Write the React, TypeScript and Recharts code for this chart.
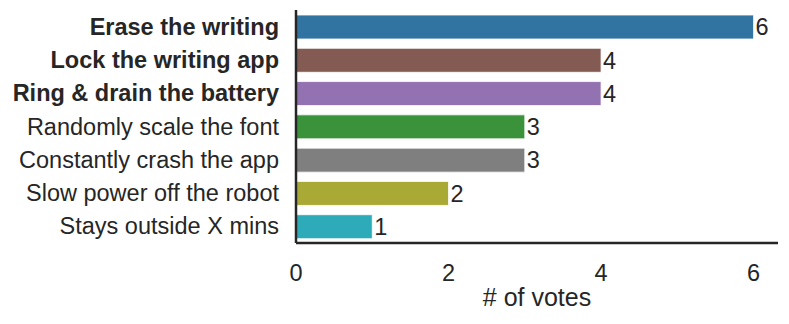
import React from 'react';
import { BarChart, Bar, XAxis, YAxis, Cell, LabelList } from 'recharts';

const categories = [
  'Erase the writing',
  'Lock the writing app',
  'Ring & drain the battery',
  'Randomly scale the font',
  'Constantly crash the app',
  'Slow power off the robot',
  'Stays outside X mins',
];
const votes = [6, 4, 4, 3, 3, 2, 1];
const boldCategories = ['Erase the writing', 'Lock the writing app', 'Ring & drain the battery'];
const xTicks = [0, 2, 4, 6];

const colors = ['#3274a1', '#845b53', '#9372b2', '#3a923a', '#7f7f7f', '#a9aa35', '#2eabb8'];

const data = categories.map((name, i) => ({ name, votes: votes[i] }));

const FONT = '"Liberation Sans", Arial, sans-serif';
const INK = '#262626';
const FS = 23.5;

const CategoryTick = (props: any) => {
  const { x, y, payload } = props;
  const bold = boldCategories.includes(payload.value);
  return (
    <text
      x={x - 9}
      y={y}
      dy={8}
      textAnchor="end"
      fill={INK}
      fontSize={FS}
      fontWeight={bold ? 'bold' : 'normal'}
      fontFamily={FONT}
    >
      {payload.value}
    </text>
  );
};

export default function App() {
  return (
    <div style={{ position: 'absolute', left: 0, top: 0, background: '#fff' }}>
      <BarChart
        width={789}
        height={324}
        data={data}
        layout="vertical"
        margin={{ top: 10, right: 11, left: 0, bottom: 0 }}
        barSize={24}
      >
        <XAxis
          type="number"
          domain={[0, 6.32]}
          ticks={xTicks}
          allowDataOverflow
          axisLine={{ stroke: INK, strokeWidth: 2.5 }}
          tickLine={false}
          tick={{ fill: INK, fontSize: FS, fontFamily: FONT }}
          tickMargin={15}
          height={81}
          label={{
            value: '# of votes',
            position: 'insideTop',
            offset: 45,
            fill: INK,
            fontSize: 25,
            fontFamily: FONT,
          }}
        />
        <YAxis
          type="category"
          dataKey="name"
          width={296}
          axisLine={{ stroke: INK, strokeWidth: 2.5 }}
          tickLine={false}
          tick={<CategoryTick />}
          interval={0}
        />
        <Bar dataKey="votes" isAnimationActive={false} stroke="#ffffff" strokeWidth={0.8}>
          {data.map((d, i) => (
            <Cell key={d.name} fill={colors[i]} />
          ))}
          <LabelList
            dataKey="votes"
            position="right"
            offset={2}
            fill={INK}
            fontSize={FS}
            fontFamily={FONT}
          />
        </Bar>
      </BarChart>
    </div>
  );
}
